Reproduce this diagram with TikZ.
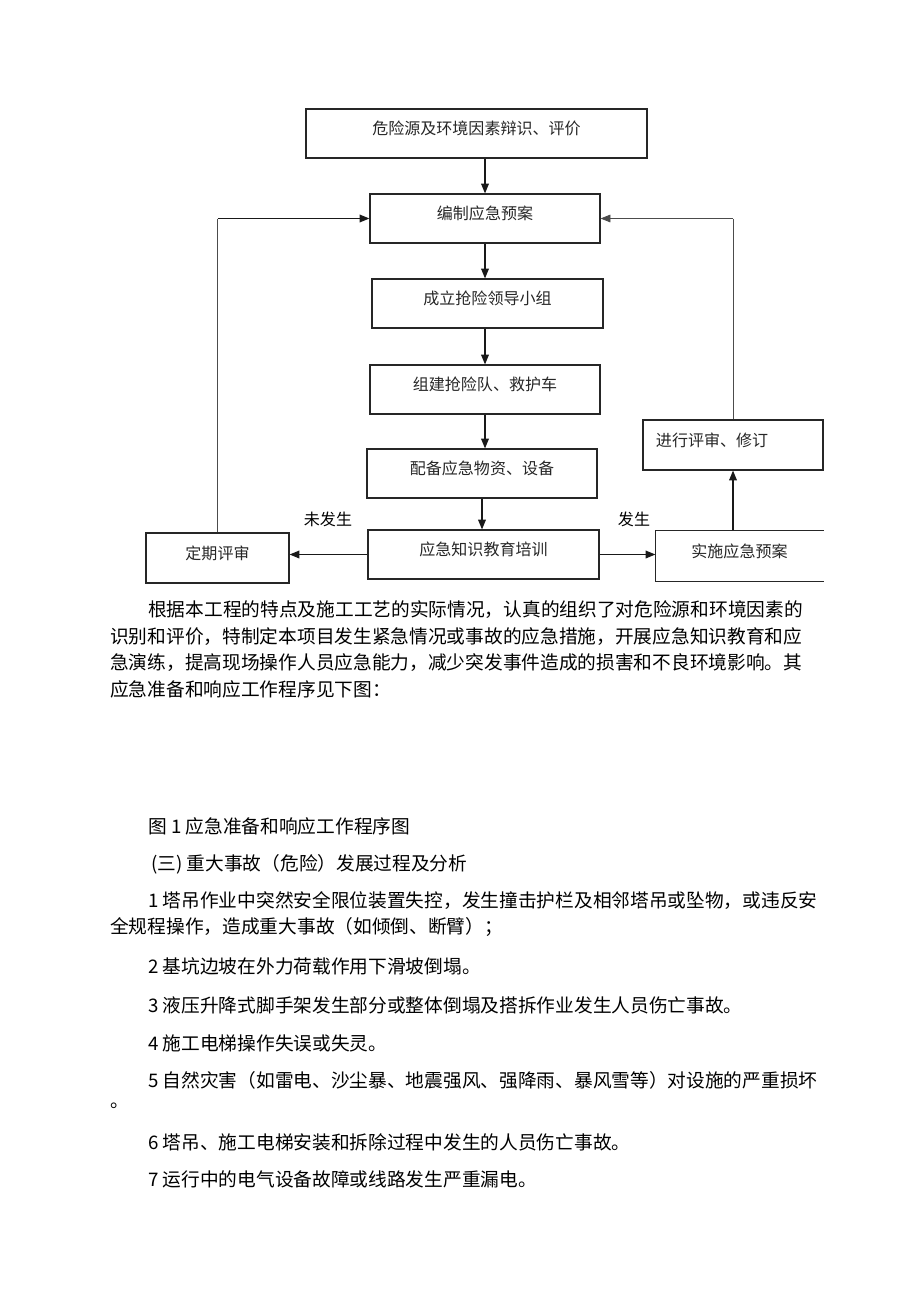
\documentclass[tikz,border=0pt]{standalone}
\usepackage{fontspec}
\newfontfamily\cjk{Noto Sans CJK SC}
\usetikzlibrary{arrows.meta}

\tikzset{
  stepbox/.style={draw=black!85, line width=0.8pt, minimum height=1.225cm, inner sep=0pt,
    text height=10pt, text depth=8.5pt, text=black!85, font=\cjk\fontsize{11.4pt}{13pt}\selectfont},
  arr/.style={line width=0.9pt, draw=black!90, -{Triangle[length=7pt,width=5.5pt]}},
  fb/.style={line width=0.6pt, draw=black!70},
  tag/.style={inner sep=0pt, font=\cjk\fontsize{11.4pt}{13pt}\selectfont},
  bodyline/.style={anchor=west, inner sep=0pt, font=\cjk\fontsize{13.3pt}{16pt}\selectfont},
}

\begin{document}
\begin{tikzpicture}[x=0.025cm, y=-0.025cm]
\useasboundingbox (0,0) rectangle (920,1302);

% flow chart
\node[stepbox, minimum width=8.525cm] (risk) at (476.5,133.5) {危险源及环境因素辩识、评价};
\node[stepbox, minimum width=5.75cm] (plan) at (485,218.5) {编制应急预案};
\node[stepbox, minimum width=5.775cm] (team) at (487.5,303.5) {成立抢险领导小组};
\node[stepbox, minimum width=5.75cm] (squad) at (485,389.5) {组建抢险队、救护车};
\node[stepbox, minimum width=5.75cm] (supply) at (482,473.5) {配备应急物资、设备};
\node[stepbox, minimum width=5.775cm] (train) at (483.5,554.5) {应急知识教育培训};
\node[stepbox, minimum width=3.575cm, minimum height=1.25cm] (review) at (217.5,558) {定期评审};
\node[stepbox, draw=none, minimum width=4.175cm, minimum height=1.25cm] (act) at (739.5,556) {实施应急预案};
\node[stepbox, minimum width=4.5cm, minimum height=1.25cm, inner xsep=0.325cm,
  text width=3.85cm, align=left] (revise) at (733,445) {进行评审、修订};

\draw[stepbox] (act.north east) -- (act.north west) -- (act.south west) -- (act.south east);

\node[tag] (no) at (328,519) {未发生};
\node[tag] (yes) at (634,519) {发生};

\draw[arr] (plan.north |- risk.south) -- (plan.north);
\draw[arr] (plan.south) -- (plan.south |- team.north);
\draw[arr] (squad.north |- team.south) -- (squad.north);
\draw[arr] (squad.south) -- (squad.south |- supply.north);
\draw[arr] (supply.south) -- (supply.south |- train.north);
\draw[arr] (train.west) -- (train.west -| review.east);
\draw[arr] (train.east) -- (train.east -| act.west);
\draw[arr] (act.north -| revise.south) -- (revise.south);

% feedback loops
\coordinate (lc) at (review.north |- plan.west);
\coordinate (rc) at (revise.north |- plan.east);
\draw[fb] (review.north) -- (lc);
\draw[arr] (lc) -- (plan.west);
\draw[fb] (revise.north) -- (rc);
\draw[fb, -{Triangle[length=7pt,width=5.5pt]}] (rc) -- (plan.east);

% text below
\node[bodyline] (para1) at (148,610) {根据本工程的特点及施工工艺的实际情况，认真的组织了对危险源和环境因素的};
\node[bodyline] (para2) at (110,637) {识别和评价，特制定本项目发生紧急情况或事故的应急措施，开展应急知识教育和应};
\node[bodyline] (para3) at (110,663) {急演练，提高现场操作人员应急能力，减少突发事件造成的损害和不良环境影响。其};
\node[bodyline] (para4) at (110,689) {应急准备和响应工作程序见下图：};

\node[bodyline] (caption) at (148,826) {图 1 应急准备和响应工作程序图};
\node[bodyline] (sec) at (151,864) {(三) 重大事故（危险）发展过程及分析};
\node[bodyline] (item1) at (148,901) {1 塔吊作业中突然安全限位装置失控，发生撞击护栏及相邻塔吊或坠物，或违反安};
\node[bodyline] (item1b) at (110,927) {全规程操作，造成重大事故（如倾倒、断臂）；};
\node[bodyline] (item2) at (148,966) {2 基坑边坡在外力荷载作用下滑坡倒塌。};
\node[bodyline] (item3) at (148,1005) {3 液压升降式脚手架发生部分或整体倒塌及搭拆作业发生人员伤亡事故。};
\node[bodyline] (item4) at (148,1043) {4 施工电梯操作失误或失灵。};
\node[bodyline] (item5) at (148,1080) {5 自然灾害（如雷电、沙尘暴、地震强风、强降雨、暴风雪等）对设施的严重损坏};
\node[bodyline] (item5b) at (110,1106) {。};
\node[bodyline] (item6) at (148,1142) {6 塔吊、施工电梯安装和拆除过程中发生的人员伤亡事故。};
\node[bodyline] (item7) at (148,1179) {7 运行中的电气设备故障或线路发生严重漏电。};
\end{tikzpicture}
\end{document}
